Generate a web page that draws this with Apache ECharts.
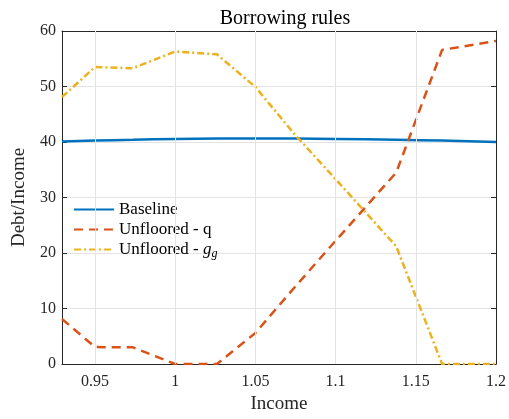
<!DOCTYPE html>
<html>
<head>
<meta charset="utf-8">
<script src="https://cdn.jsdelivr.net/npm/echarts@6/dist/echarts.min.js"></script>
<style>html,body{margin:0;padding:0;background:#fff;}#c{width:509px;height:419px;}</style>
</head>
<body>
<div id="c"></div>
<script>
var income = [0.9294, 0.95, 0.9736, 1.0, 1.026, 1.05, 1.075, 1.1, 1.1378, 1.1664, 1.2];
var baseline = [40.1, 40.25, 40.4, 40.55, 40.62, 40.65, 40.62, 40.55, 40.4, 40.25, 40.0];
var unflooredQ = [8.1, 3.05, 3.0, 0, 0, 5.6, 14.0, 22.2, 34.5, 56.6, 58.2];
var unflooredG = [48.1, 53.5, 53.3, 56.3, 55.8, 49.9, 41.2, 33.3, 21.2, 0, 0];
var xTicks = [0.95, 1, 1.05, 1.1, 1.15, 1.2];
var xMin = 0.9294, xMax = 1.2;

function pairs(ys){ return income.map(function(x,i){ return [x, ys[i]]; }); }

var font = 'Liberation Serif';
var dark = '#262626';
var chart = echarts.init(document.getElementById('c'), null, {renderer:'canvas'});
chart.setOption({
  animation: false,
  backgroundColor: '#fff',
  title: {
    text: 'Borrowing rules', left: 280, top: 4, textAlign: 'center',
    textStyle: {fontFamily: font, fontSize: 20, fontWeight: 'normal', color: '#000'}
  },
  grid: {left: 62, right: 12, top: 31, bottom: 54, containLabel: false},
  legend: {
    left: 68, top: 196, orient: 'vertical', itemWidth: 40, itemHeight: 12, itemGap: 3,
    itemStyle: {opacity: 0},
    textStyle: {fontFamily: font, fontSize: 17, color: '#000',
      rich: {it: {fontFamily: font, fontStyle: 'italic', fontSize: 17, color: '#000'},
             sub: {fontFamily: font, fontStyle: 'italic', fontSize: 12, color: '#000', padding: [8,0,0,0]}}},
    formatter: function(n){ if (n === 'Unfloored - g') return 'Unfloored - {it|g}{sub|g}'; return n; },
    data: ['Baseline', 'Unfloored - q', 'Unfloored - g']
  },
  xAxis: [{
    type: 'value', min: xMin, max: xMax, position: 'bottom',
    name: 'Income', nameLocation: 'middle', nameGap: 31,
    nameTextStyle: {fontFamily: font, fontSize: 19, color: dark},
    axisLine: {show: true, onZero: false, lineStyle: {color: dark, width: 1}},
    axisTick: {show: true, inside: true, length: 5, customValues: xTicks, lineStyle: {color: dark}},
    axisLabel: {customValues: xTicks, fontFamily: font, fontSize: 16, color: dark, margin: 10,
      formatter: function(v){ return String(Math.round(v*100)/100); }},
    splitLine: {show: false}
  }, {
    type: 'value', min: xMin, max: xMax, position: 'top',
    axisLine: {show: true, onZero: false, lineStyle: {color: dark, width: 1}},
    axisTick: {show: true, inside: true, length: 5, customValues: xTicks, lineStyle: {color: dark}},
    axisLabel: {show: false}, splitLine: {show: false}
  }],
  yAxis: [{
    type: 'value', min: 0, max: 60, interval: 10, position: 'left',
    name: 'Debt/Income', nameLocation: 'middle', nameGap: 33,
    nameTextStyle: {fontFamily: font, fontSize: 19, color: dark},
    axisLine: {show: true, lineStyle: {color: dark, width: 1}},
    axisTick: {show: true, inside: true, length: 5, lineStyle: {color: dark}},
    axisLabel: {fontFamily: font, fontSize: 16, color: dark, margin: 6},
    splitLine: {show: true, lineStyle: {color: '#e3e3e3', width: 1}}
  }, {
    type: 'value', min: 0, max: 60, interval: 10, position: 'right',
    axisLine: {show: true, lineStyle: {color: dark, width: 1}},
    axisTick: {show: true, inside: true, length: 5, lineStyle: {color: dark}},
    axisLabel: {show: false}, splitLine: {show: false}
  }],
  series: [
    {name: 'gridlines', type: 'line', data: [], silent: true,
     markLine: {silent: true, symbol: 'none', label: {show: false},
       lineStyle: {color: '#e3e3e3', width: 1, type: 'solid'},
       data: xTicks.slice(0, xTicks.length - 1).map(function(v){ return {xAxis: v}; })}},
    {name: 'Baseline', type: 'line', data: pairs(baseline), smooth: true, symbol: 'none',
     lineStyle: {color: '#0072BD', width: 2.5}, itemStyle: {color: '#0072BD'}},
    {name: 'Unfloored - q', type: 'line', data: pairs(unflooredQ), symbol: 'none',
     lineStyle: {color: '#D95319', width: 2.5, type: [9, 6]}, itemStyle: {color: '#D95319'}},
    {name: 'Unfloored - g', type: 'line', data: pairs(unflooredG), symbol: 'none',
     lineStyle: {color: '#EDB120', width: 2.5, type: [7, 3, 2, 3]}, itemStyle: {color: '#EDB120'}}
  ]
});
</script>
</body>
</html>
